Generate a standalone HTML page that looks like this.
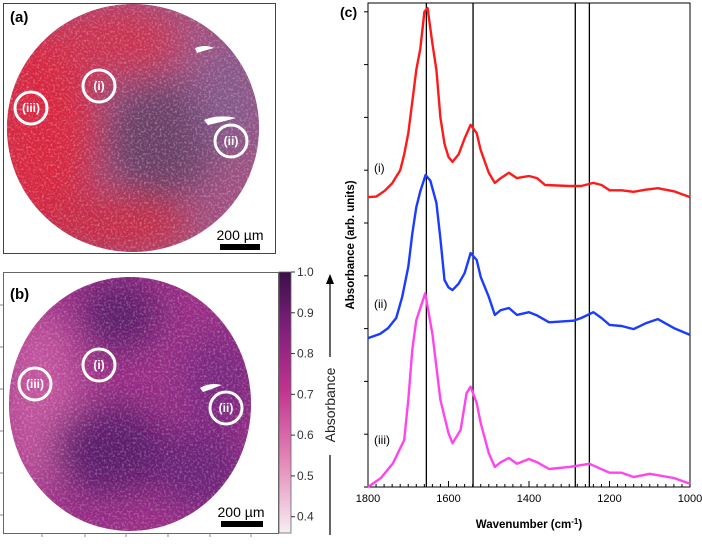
<!DOCTYPE html>
<html><head><meta charset="utf-8"><style>
html,body{margin:0;padding:0;background:#fff;}
svg{display:block;font-family:"Liberation Sans",Arial,sans-serif;}
</style></head><body>
<svg width="702" height="550" viewBox="0 0 702 550">
<defs>
<filter id="tex" x="0" y="0" width="100%" height="100%">
<feTurbulence type="fractalNoise" baseFrequency="0.45" numOctaves="2" seed="3" result="n"/>
<feColorMatrix in="n" type="matrix" values="0 0 0 0 1  0 0 0 0 1  0 0 0 0 1  0 0 0 1.6 -0.75" result="w"/>
<feComposite in="w" in2="SourceGraphic" operator="in"/>
</filter>
<filter id="blur"><feGaussianBlur stdDeviation="18"/></filter>
<clipPath id="ca"><ellipse cx="133" cy="128" rx="126" ry="124"/></clipPath>
<clipPath id="cb"><ellipse cx="130" cy="404" rx="121" ry="127"/></clipPath>
<linearGradient id="cbar" x1="0" y1="1" x2="0" y2="0">
<stop offset="0" stop-color="#f6eef3"/><stop offset="0.3" stop-color="#e27fb3"/><stop offset="0.55" stop-color="#c0338f"/><stop offset="0.8" stop-color="#7a1e7a"/><stop offset="1" stop-color="#3a1048"/>
</linearGradient>
</defs>

<!-- Panel a -->
<g>
<rect x="3.5" y="3.5" width="272" height="250" fill="#fff" stroke="#444" stroke-width="1"/>
<g clip-path="url(#ca)">
<rect x="0" y="0" width="280" height="260" fill="#a05080"/>
<g filter="url(#blur)">
<ellipse cx="40" cy="130" rx="55" ry="110" fill="#d8283f"/>
<ellipse cx="110" cy="40" rx="70" ry="35" fill="#cc3050"/>
<ellipse cx="110" cy="225" rx="80" ry="30" fill="#c82a45"/>
<ellipse cx="160" cy="140" rx="55" ry="60" fill="#6a4068"/>
<ellipse cx="230" cy="100" rx="35" ry="60" fill="#86588a"/>
</g>
<rect x="0" y="0" width="280" height="260" fill="#fff" filter="url(#tex)" opacity="0.55"/>
<path d="M195 48 Q205 44 214 48 Q206 50 197 53 Z M204 120 Q218 114 236 118 Q222 122 208 125 Z" fill="#fff"/>
</g>
<text x="10" y="22" font-size="15" font-weight="bold">(a)</text>
<g fill="none" stroke="#fff" stroke-width="3">
<circle cx="99" cy="86" r="16"/>
<circle cx="31" cy="108" r="16"/>
<circle cx="231" cy="141" r="16"/>
</g>
<g fill="#fff" font-size="12" font-weight="bold" text-anchor="middle">
<text x="99" y="90">(i)</text><text x="31" y="112">(iii)</text><text x="231" y="145">(ii)</text>
</g>
<text x="240" y="240" font-size="14" text-anchor="middle">200 µm</text>
<rect x="220" y="244" width="40" height="6" fill="#000"/>
</g>

<!-- Panel b -->
<g>
<rect x="3.5" y="272.5" width="275" height="261" fill="#fff" stroke="#666" stroke-width="1"/>
<g clip-path="url(#cb)">
<rect x="0" y="270" width="280" height="270" fill="#9a2f86"/>
<g filter="url(#blur)">
<ellipse cx="40" cy="400" rx="40" ry="90" fill="#c2559e"/>
<ellipse cx="120" cy="315" rx="40" ry="35" fill="#5a1a6a"/>
<ellipse cx="110" cy="450" rx="60" ry="45" fill="#5c1a6c"/>
<ellipse cx="200" cy="470" rx="45" ry="40" fill="#6a2078"/>
<ellipse cx="220" cy="380" rx="40" ry="50" fill="#7a2580"/>
</g>
<rect x="0" y="270" width="280" height="270" fill="#fff" filter="url(#tex)" opacity="0.5"/>
<path d="M200 388 Q210 382 222 385 Q212 389 203 392 Z" fill="#fff"/>
</g>
<text x="10" y="299" font-size="15" font-weight="bold">(b)</text>
<g stroke="#888" stroke-width="1">
<line x1="3" y1="305" x2="0" y2="305"/><line x1="3" y1="347" x2="0" y2="347"/><line x1="3" y1="389" x2="0" y2="389"/><line x1="3" y1="431" x2="0" y2="431"/><line x1="3" y1="473" x2="0" y2="473"/><line x1="3" y1="515" x2="0" y2="515"/>
<line x1="42" y1="533" x2="42" y2="537"/><line x1="85" y1="533" x2="85" y2="537"/><line x1="126" y1="533" x2="126" y2="537"/><line x1="168" y1="533" x2="168" y2="537"/><line x1="210" y1="533" x2="210" y2="537"/><line x1="251" y1="533" x2="251" y2="537"/>
</g>
<g fill="none" stroke="#fff" stroke-width="3">
<circle cx="99" cy="365" r="16"/>
<circle cx="35" cy="384" r="16"/>
<circle cx="226" cy="408" r="16"/>
</g>
<g fill="#fff" font-size="12" font-weight="bold" text-anchor="middle">
<text x="99" y="369">(i)</text><text x="35" y="388">(iii)</text><text x="226" y="412">(ii)</text>
</g>
<text x="241" y="517" font-size="14" text-anchor="middle">200 µm</text>
<rect x="221" y="521" width="42" height="6" fill="#000"/>
<rect x="279" y="272" width="12" height="261" fill="url(#cbar)" stroke="#666" stroke-width="0.8"/>
<g id="cbticks" font-size="12" fill="#333"></g>
<text transform="translate(335,405) rotate(-90)" font-size="14" text-anchor="middle" fill="#222">Absorbance</text>
<line x1="330" y1="535" x2="330" y2="455" stroke="#000" stroke-width="1.2"/>
<line x1="330" y1="357" x2="330" y2="283" stroke="#000" stroke-width="1.2"/>
<path d="M326 284 L330 274 L334 284 Z" fill="#000"/>
</g>

<!-- Panel c -->
<g id="pc">
<text x="340" y="17" font-size="14" font-weight="bold">(c)</text>
<rect x="368" y="3" width="322" height="484" fill="none" stroke="#000" stroke-width="1"/>
<text transform="translate(354,245) rotate(-90)" font-size="11.5" font-weight="bold" text-anchor="middle">Absorbance (arb. units)</text>
<text x="529" y="528" font-size="11.5" font-weight="bold" text-anchor="middle">Wavenumber (cm<tspan font-size="8" dy="-4">-1</tspan><tspan dy="4">)</tspan></text>
<g id="axes"></g>
<g id="marks"></g>
</g>
</svg>
<script>
const cbTicks=[0.4,0.5,0.6,0.7,0.8,0.9,1.0];
const xTicks=[1800,1600,1400,1200,1000];
const yTicks=[0,1,2,3,4,5,6,7,8,9];
const vLines=[1655,1539,1285,1250];
const wnRed=[1800,1780,1760,1740,1720,1710,1700,1690,1680,1670,1660,1652,1640,1630,1620,1610,1600,1590,1575,1560,1545,1530,1520,1500,1485,1470,1450,1430,1400,1380,1360,1300,1270,1240,1220,1200,1170,1140,1110,1080,1040,1000];
const valRed=[5.49,5.5,5.6,5.75,6.0,6.3,6.7,7.3,7.9,8.3,9.0,9.07,8.4,7.9,7.0,6.5,6.25,6.16,6.3,6.6,6.86,6.7,6.38,5.95,5.76,5.85,5.95,5.85,5.89,5.85,5.72,5.70,5.70,5.76,5.72,5.62,5.62,5.59,5.63,5.66,5.6,5.49];
const wnBlue=[1800,1770,1750,1730,1715,1700,1690,1680,1670,1657,1645,1630,1620,1610,1600,1590,1575,1560,1545,1530,1520,1500,1485,1470,1450,1430,1400,1380,1350,1290,1270,1240,1220,1200,1170,1140,1110,1080,1040,1000];
const valBlue=[2.82,2.9,3.01,3.2,3.6,4.17,4.8,5.3,5.6,5.91,5.8,5.38,4.7,3.92,3.78,3.73,3.85,4.05,4.43,4.3,3.98,3.6,3.26,3.35,3.39,3.26,3.31,3.25,3.12,3.15,3.2,3.31,3.2,3.07,3.05,2.99,3.1,3.18,3.01,2.88];
const wnMag=[1800,1768,1738,1710,1700,1690,1680,1658,1640,1620,1600,1590,1570,1555,1545,1530,1520,1500,1485,1470,1450,1430,1400,1380,1350,1300,1250,1200,1170,1140,1100,1040,1000];
const valMag=[0.0,0.17,0.45,0.89,1.65,2.6,3.16,3.67,2.9,1.65,1.02,0.83,1.08,1.78,1.9,1.59,1.21,0.64,0.38,0.47,0.55,0.44,0.53,0.47,0.34,0.38,0.44,0.27,0.27,0.19,0.25,0.17,0.06];
const series=[{wn:wnRed,v:valRed,c:"#ff1a1a",label:"(i)",ly:172,name:"spectrum-i"},
{wn:wnBlue,v:valBlue,c:"#1a3cff",label:"(ii)",ly:308,name:"spectrum-ii"},
{wn:wnMag,v:valMag,c:"#ff44ee",label:"(iii)",ly:444,name:"spectrum-iii"}];
const NS="http://www.w3.org/2000/svg";
const X0=368,X1=690,Y0=487,YU=52.8;
function xs(w){return X0+(1800-w)*(X1-X0)/800;}
function ys(v){return Y0-v*YU;}
function cbY(v){return 533-(v-0.36)/(1.0-0.36)*261;}
function mk(t,a,p){const e=document.createElementNS(NS,t);for(const k in a)e.setAttribute(k,a[k]);p.appendChild(e);return e;}
const cb=document.getElementById('cbticks');
cbTicks.forEach(v=>{const y=cbY(v);
const l=mk('line',{x1:291,x2:295,y1:y,y2:y,stroke:'#333'},cb);


const t=mk('text',{x:297,y:y+4},cb);t.textContent=v.toFixed(1);

});
const ax=document.getElementById('axes');
for(let w=1800;w>=1000;w-=20){const x=xs(w);const big=(w%200===0);
const l=mk('line',{x1:x,x2:x,y1:Y0,y2:Y0-(big?6:3),stroke:'#000'},ax);

}
xTicks.forEach(w=>{const t=mk('text',{x:xs(w),y:502,'font-size':11,'text-anchor':'middle'},ax);t.textContent=w;

});
yTicks.forEach(v=>{const y=ys(v);const l=mk('line',{x1:X0-4,x2:X0,y1:y,y2:y,stroke:'#000'},ax);

});
const mg=document.getElementById('marks');
vLines.forEach(w=>{const l=mk('line',{x1:xs(w),x2:xs(w),y1:3,y2:Y0,stroke:'#000','stroke-width':1.3},mg);

});
series.forEach(s=>{let d='';s.wn.forEach((w,i)=>{d+=(i?'L':'M')+xs(w).toFixed(1)+' '+ys(s.v[i]).toFixed(1);});
const p=mk('path',{d:d,fill:'none',stroke:s.c,'stroke-width':2.4,'stroke-linejoin':'round'},mg);


const t=mk('text',{x:374,y:s.ly,'font-size':12},mg);t.textContent=s.label;

});
</script>
</body></html>
